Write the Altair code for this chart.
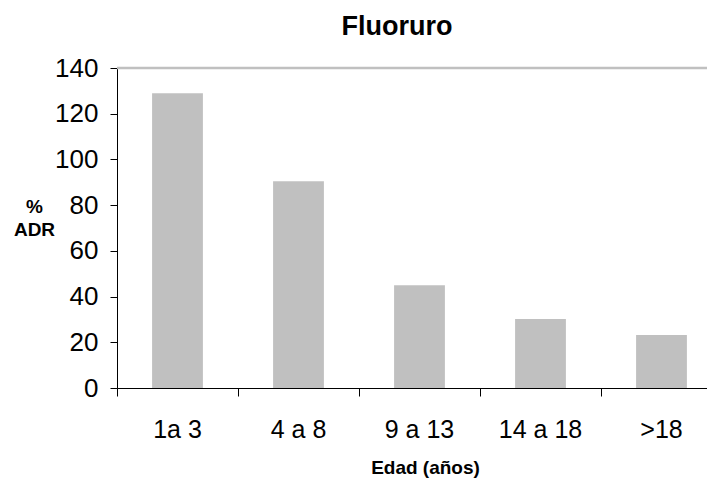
import altair as alt
import pandas as pd

categories = ["1a 3", "4 a 8", "9 a 13", "14 a 18", ">18"]
values = [129.0, 90.4, 44.9, 30.2, 23.2]
y_ticks = [0, 20, 40, 60, 80, 100, 120, 140]
top_line = [140]

FONT = "Liberation Sans"

df = pd.DataFrame({"edad": categories, "adr": values})
df_top = pd.DataFrame({"v": top_line})

x_enc = alt.X(
    "edad:N",
    sort=categories,
    scale=alt.Scale(range=[0, 605], paddingInner=0, paddingOuter=0),
    axis=alt.Axis(
        title="Edad (años)",
        labelAngle=0,
        bandPosition=0,
        labelFont=FONT,
        labelFontSize=25,
        labelColor="#000000",
        labelBaseline="alphabetic",
        labelPadding=41,
        tickSize=8,
        tickColor="#000000",
        domainColor="#000000",
        domainWidth=1,
        titleFont=FONT,
        titleFontSize=19,
        titleFontWeight="bold",
        titleColor="#000000",
        titleX=308,
        titleY=85,
        titleAlign="center",
        titleBaseline="alphabetic",
        grid=False,
    ),
)

y_enc = alt.Y(
    "adr:Q",
    scale=alt.Scale(domain=[0, 140], nice=False),
    axis=alt.Axis(
        values=y_ticks,
        title=["%", "ADR"],
        titleAngle=0,
        titleX=-83,
        titleY=144,
        titleAlign="center",
        titleBaseline="alphabetic",
        titleLineHeight=23,
        titleFont=FONT,
        titleFontSize=19,
        titleFontWeight="bold",
        titleColor="#000000",
        labelFont=FONT,
        labelFontSize=26,
        labelColor="#000000",
        labelPadding=12,
        tickSize=7,
        tickColor="#000000",
        domainColor="#000000",
        domainWidth=1,
        grid=False,
    ),
)

bars = alt.Chart(df).mark_bar(
    color="#c0c0c0", width=alt.RelativeBandSize(0.42)
).encode(x=x_enc, y=y_enc)

rule = alt.Chart(df_top).mark_rule(color="#c0c0c0", strokeWidth=2.5).encode(
    y=alt.Y("v:Q"),
    x=alt.value(0),
    x2=alt.value(605),
)

chart = (
    alt.layer(rule, bars)
    .properties(
        width=590,
        height=320,
        autosize=alt.AutoSizeParams(type="none"),
        padding={"left": 109, "top": 60, "right": 0, "bottom": 92},
        title=alt.TitleParams(
            text="Fluoruro",
            font=FONT,
            fontSize=27,
            fontWeight="bold",
            color="#000000",
            anchor="middle",
            dx=-15,
            offset=14,
        ),
    )
    .configure_view(strokeWidth=0)
)

chart.save("out.html", embed_options={"renderer": "svg", "actions": False})
